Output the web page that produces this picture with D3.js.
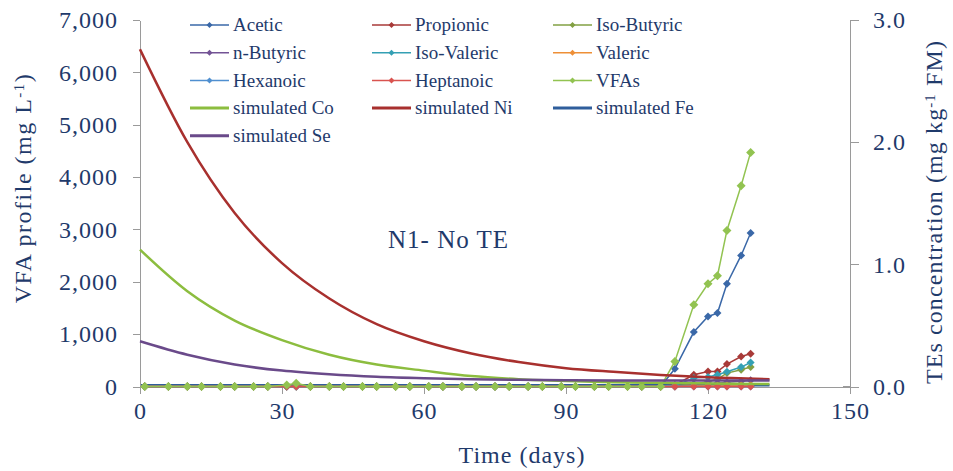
<!DOCTYPE html>
<meta charset="utf-8">
<title>N1 - No TE</title>
<style>

body {
  margin: 0;
  background: #fff;
}

svg text {
  font-family: "Liberation Serif", "Times New Roman", Times, serif !important;
  fill: #1f3a6b;
}

.axis path,
.axis line {
  fill: none;
  stroke: #9a9a9a;
  shape-rendering: crispEdges;
}

.axis text {
  font-size: 24px;
  letter-spacing: 1px;
  fill: #1f3a6b;
}

.legend text {
  font-size: 19px;
}

.title {
  font-size: 24px;
}

</style>
<body>
<svg id="chart"></svg>
</body>

<script src="https://d3js.org/d3.v7.min.js"></script>
<script>

// sampling days of the VFA measurements
var days = [1, 6, 10, 13, 17, 20, 24, 27, 31, 33, 36, 40, 43, 47, 50, 54, 57, 61, 64, 68,
            71, 75, 78, 82, 85, 89, 92, 96, 99, 103, 106, 110, 113, 117, 120, 122, 124, 127, 129];

// VFA profile (mg/L)
var acetic     = [0,0,0,0,0,0,0,0,0,0,0,0,0,0,0,0,0,0,0,0,0,0,0,0,0,0,0,0,0,0,0,0, 338, 1040, 1337, 1402, 1962, 2503, 2931];
var propionic  = [0,0,0,0,0,0,0,0,0,20,0,0,0,0,0,0,0,0,0,0,0,0,0,0,0,0,0,0,0,0,0,0, 30, 224, 287, 287, 428, 573, 625];
var isoButyric = [0,0,0,0,0,0,0,0,0,0,0,0,0,0,0,0,0,0,0,0,0,0,0,0,0,0,0,0,0,0,0,0, 10, 50, 90, 140, 256, 319, 371];
var nButyric   = [0,0,0,0,0,0,0,0,0,0,0,0,0,0,0,0,0,0,0,0,0,0,0,0,0,0,0,0,0,0,0,0, 0, 40, 60, 60, 80, 100, 120];
var isoValeric = [0,0,0,0,0,0,0,0,0,0,0,0,0,0,0,0,0,0,0,0,0,0,0,0,0,0,0,0,0,0,0,0, 20, 160, 180, 224, 281, 371, 459];
var valeric    = [0,0,0,0,0,0,0,0,0,0,0,0,0,0,0,0,0,0,0,0,0,0,0,0,0,0,0,0,0,0,0,0, 0, 10, 15, 15, 20, 25, 30];
var hexanoic   = [0,0,0,0,0,0,0,0,0,0,0,0,0,0,0,0,0,0,0,0,0,0,0,0,0,0,0,0,0,0,0,0, 0, 0, 0, 0, 0, 0, 0];
var heptanoic  = [0,0,0,0,0,0,0,0,0,0,0,0,0,0,0,0,0,0,0,0,0,0,0,0,0,0,0,0,0,0,0,0, 0, 0, 0, 0, 0, 0, 0];
var vfas       = [0,0,0,0,0,0,0,0,30,60,0,0,0,0,0,0,0,0,0,0,0,0,0,0,0,0,0,0,0,0,0,0, 478, 1561, 1962, 2115, 2981, 3835, 4471];

// simulated trace element curves (mg/kg FM), read at these days
var simDays = [0, 10, 20, 30, 40, 50, 60, 70, 80, 90, 100, 110, 120, 133];
var simCo = [1.12, 0.78, 0.54, 0.38, 0.26, 0.18, 0.13, 0.085, 0.06, 0.045, 0.035, 0.03, 0.025, 0.02];
var simNi = [2.76, 2.0, 1.42, 1.01, 0.72, 0.51, 0.37, 0.27, 0.2, 0.15, 0.12, 0.095, 0.075, 0.06];
var simFe = [0.01, 0.01, 0.01, 0.01, 0.01, 0.01, 0.01, 0.01, 0.01, 0.01, 0.01, 0.01, 0.01, 0.01];
var simSe = [0.37, 0.26, 0.18, 0.13, 0.1, 0.08, 0.068, 0.06, 0.055, 0.052, 0.05, 0.05, 0.05, 0.05];

var xTicks = [0, 30, 60, 90, 120, 150];
var yLeftTicks = [0, 1000, 2000, 3000, 4000, 5000, 6000, 7000];
var yRightTicks = [0, 1, 2, 3];

var vfaSeries = [
  {name: "Acetic",      values: acetic,     color: "#3a68a8", r: 4},
  {name: "Propionic",   values: propionic,  color: "#a83a38", r: 4},
  {name: "Iso-Butyric", values: isoButyric, color: "#82a043", r: 4},
  {name: "n-Butyric",   values: nButyric,   color: "#735395", r: 4},
  {name: "Iso-Valeric", values: isoValeric, color: "#34a0b4", r: 4},
  {name: "Valeric",     values: valeric,    color: "#ee8f37", r: 4},
  {name: "Hexanoic",    values: hexanoic,   color: "#4f8fd0", r: 4},
  {name: "Heptanoic",   values: heptanoic,  color: "#d9534f", r: 4},
  {name: "VFAs",        values: vfas,       color: "#92c351", r: 4.5}
];

var simSeries = [
  {name: "simulated Co", values: simCo, color: "#8cbd3f"},
  {name: "simulated Ni", values: simNi, color: "#a8302e"},
  {name: "simulated Fe", values: simFe, color: "#2f5e9c"},
  {name: "simulated Se", values: simSe, color: "#6a4a8a"}
];

var width = 953,
    height = 471;

var x = d3.scaleLinear().domain([0, 150]).range([140, 850]);
var yL = d3.scaleLinear().domain([0, 7000]).range([386.5, 20]);
var yR = d3.scaleLinear().domain([0, 3]).range([386.5, 20]);

var svg = d3.select("#chart")
    .attr("width", width)
    .attr("height", height);

// simulated Fe sits under the VFA markers, so draw it first
var simLine = d3.line()
    .curve(d3.curveMonotoneX)
    .x(function(d) { return x(d.day); })
    .y(function(d) { return yR(d.v); });

function drawSim(s) {
  var pts = simDays.map(function(d, i) { return {day: d, v: s.values[i]}; });
  svg.append("path")
      .datum(pts)
      .attr("d", simLine)
      .style("fill", "none")
      .style("stroke", s.color)
      .style("stroke-width", 2.5);
}

drawSim(simSeries[2]);

// axes
svg.append("g")
    .attr("class", "x axis")
    .attr("transform", "translate(0," + yL(0) + ")")
    .call(d3.axisBottom(x).tickValues(xTicks).tickSize(7).tickSizeOuter(0).tickPadding(5))
    .selectAll("text").attr("dy", "0.85em");

svg.append("g")
    .attr("class", "y axis")
    .attr("transform", "translate(" + x(0) + ",0)")
    .call(d3.axisLeft(yL).tickValues(yLeftTicks).tickFormat(d3.format(",")).tickSize(7).tickSizeOuter(0).tickPadding(15));

svg.append("g")
    .attr("class", "y axis")
    .attr("transform", "translate(" + x(150) + ",0)")
    .call(d3.axisRight(yR).tickValues(yRightTicks).tickFormat(d3.format(".1f")).tickSize(9).tickSizeOuter(0).tickPadding(14));

svg.append("line")
    .attr("x1", x(150) - 7).attr("x2", x(150))
    .attr("y1", yR(0)).attr("y2", yR(0))
    .style("stroke", "#9a9a9a")
    .style("shape-rendering", "crispEdges");

// axis titles
var leftTitle = svg.append("text")
    .attr("class", "title")
    .attr("transform", "translate(31,188) rotate(-90)")
    .style("text-anchor", "middle")
    .style("letter-spacing", "1.5px");
leftTitle.append("tspan").text("VFA profile (mg L");
leftTitle.append("tspan").attr("dy", "-0.45em").style("font-size", "15px").text("-1");
leftTitle.append("tspan").attr("dy", "0.3em").text(")");

var rightTitle = svg.append("text")
    .attr("class", "title")
    .attr("transform", "translate(942,212) rotate(-90)")
    .style("text-anchor", "middle")
    .style("letter-spacing", "1.1px");
rightTitle.append("tspan").text("TEs concentration (mg kg");
rightTitle.append("tspan").attr("dy", "-0.45em").style("font-size", "15px").text("-1");
rightTitle.append("tspan").attr("dy", "0.3em").text(" FM)");

svg.append("text")
    .attr("class", "title")
    .attr("x", 522)
    .attr("y", 463)
    .style("text-anchor", "middle")
    .style("letter-spacing", "1px")
    .text("Time (days)");

svg.append("text")
    .attr("class", "title")
    .attr("x", 388)
    .attr("y", 248)
    .style("font-size", "25px")
    .style("letter-spacing", "1px")
    .text("N1- No TE");

// VFA series: thin lines with diamond markers
var diamond = function(r) {
  return "M0," + (-r) + "L" + r + ",0L0," + r + "L" + (-r) + ",0Z";
};

var vfaLine = d3.line()
    .x(function(d) { return x(d.day); })
    .y(function(d) { return yL(d.v); });

vfaSeries.forEach(function(s) {
  var pts = days.map(function(d, i) { return {day: d, v: s.values[i]}; });
  var g = svg.append("g").attr("class", "series");
  g.append("path")
      .datum(pts)
      .attr("d", vfaLine)
      .style("fill", "none")
      .style("stroke", s.color)
      .style("stroke-width", 1.5);
  g.selectAll(".dot")
      .data(pts)
    .enter().append("path")
      .attr("class", "dot")
      .attr("transform", function(d) { return "translate(" + x(d.day) + "," + yL(d.v) + ")"; })
      .attr("d", diamond(s.r))
      .style("fill", s.color);
});

// the other simulated curves on the secondary axis
[simSeries[0], simSeries[1], simSeries[3]].forEach(drawSim);

// legend, three columns
var legendItems = vfaSeries.map(function(s) { return {name: s.name, color: s.color, sim: false}; })
    .concat(simSeries.map(function(s) { return {name: s.name, color: s.color, sim: true}; }));

var colX = [190, 372, 553],
    rowY = 25,
    rowH = 27.7;

var legend = svg.selectAll(".legend")
    .data(legendItems)
  .enter().append("g")
    .attr("class", "legend")
    .attr("transform", function(d, i) {
      return "translate(" + colX[i % 3] + "," + (rowY + Math.floor(i / 3) * rowH) + ")";
    });

legend.append("line")
    .attr("x1", 0).attr("x2", 39)
    .attr("y1", 0).attr("y2", 0)
    .style("stroke", function(d) { return d.color; })
    .style("stroke-width", function(d) { return d.sim ? 3 : 1.5; });

legend.filter(function(d) { return !d.sim; })
  .append("path")
    .attr("transform", "translate(19.5,0)")
    .attr("d", diamond(3))
    .style("fill", function(d) { return d.color; });

legend.append("text")
    .attr("x", 43)
    .attr("y", 0)
    .attr("dy", "0.33em")
    .text(function(d) { return d.name; });

</script>
